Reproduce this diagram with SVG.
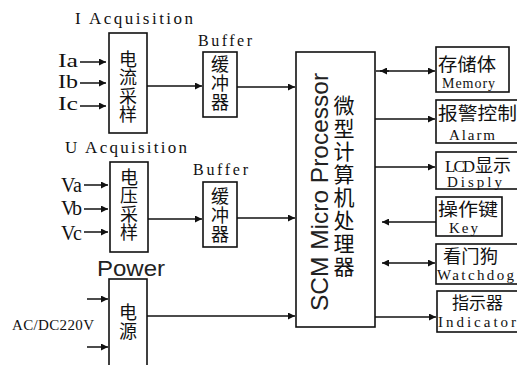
<svg xmlns="http://www.w3.org/2000/svg" width="517" height="365" viewBox="0 0 517 365">
<style>
.box{fill:#fff;stroke:#111;stroke-width:1.6}
.ln{fill:none;stroke:#111;stroke-width:1.5}
.mono{font-family:"Liberation Serif","DejaVu Serif",serif;fill:#111}
.cjk{font-family:"Noto Sans CJK SC","Noto Sans CJK JP",sans-serif;fill:#111}
.sans{font-family:"Liberation Sans",Arial,sans-serif;fill:#222}
.vt{font-family:"Noto Sans CJK SC","Noto Sans CJK JP",sans-serif;fill:#111;writing-mode:vertical-rl}
</style>
<defs>
<marker id="ah" viewBox="0 0 10 10" refX="10" refY="5" markerWidth="8" markerHeight="7" markerUnits="userSpaceOnUse" orient="auto-start-reverse">
<path d="M0,0 L10,5 L0,10 z" fill="#111"/>
</marker>
</defs>
<rect width="517" height="365" fill="#fff"/>

<g id="i-acq">
<text class="mono" x="75" y="24" font-size="17" textLength="118" lengthAdjust="spacing">I Acquisition</text>
<rect class="box" x="109" y="33" width="38" height="100"/>
<text class="vt" x="128" y="50" font-size="18" letter-spacing="0.5">电流采样</text>
<text class="mono" x="58" y="67" font-size="19.5" textLength="20" lengthAdjust="spacingAndGlyphs">Ia</text>
<text class="mono" x="58" y="88" font-size="19.5" textLength="20" lengthAdjust="spacingAndGlyphs">Ib</text>
<text class="mono" x="58" y="110" font-size="19.5" textLength="20" lengthAdjust="spacingAndGlyphs">Ic</text>
</g>

<g id="buffer1">
<text class="mono" x="198" y="46" font-size="16" textLength="54" lengthAdjust="spacing">Buffer</text>
<rect class="box" x="203" y="52" width="34" height="65"/>
<text class="vt" x="220" y="55" font-size="18" letter-spacing="1">缓冲器</text>
</g>

<g id="u-acq">
<text class="mono" x="65" y="153" font-size="17" textLength="122" lengthAdjust="spacing">U Acquisition</text>
<rect class="box" x="110" y="162" width="38" height="90"/>
<text class="vt" x="129" y="168" font-size="18" letter-spacing="0.5">电压采样</text>
<text class="mono" x="61" y="192" font-size="20" textLength="21" lengthAdjust="spacing">Va</text>
<text class="mono" x="61" y="215" font-size="20" textLength="21" lengthAdjust="spacing">Vb</text>
<text class="mono" x="61" y="240" font-size="20" textLength="21" lengthAdjust="spacing">Vc</text>
</g>

<g id="buffer2">
<text class="mono" x="193" y="175" font-size="16" textLength="55" lengthAdjust="spacing">Buffer</text>
<rect class="box" x="203" y="182" width="34" height="65"/>
<text class="vt" x="220" y="187" font-size="18" letter-spacing="1">缓冲器</text>
</g>

<g id="power">
<text class="sans" x="97" y="276" font-size="22" textLength="68" lengthAdjust="spacingAndGlyphs">Power</text>
<rect class="box" x="109" y="279" width="38" height="100"/>
<text class="vt" x="128" y="303" font-size="18" letter-spacing="1">电源</text>
<text class="mono" x="12" y="330" font-size="15" textLength="82" lengthAdjust="spacing">AC/DC220V</text>
</g>

<g id="processor">
<rect class="box" x="296" y="52" width="79" height="275"/>
<text class="sans" transform="translate(328,192) rotate(-90)" text-anchor="middle" font-size="24.5">SCM Micro Processor</text>
<text class="vt" x="344" y="95" font-size="21" letter-spacing="2">微型计算机处理器</text>
</g>

<g id="memory">
<rect class="box" x="436" y="47" width="73" height="45"/>
<text class="cjk" x="438" y="71" font-size="18" textLength="58" lengthAdjust="spacingAndGlyphs">存储体</text>
<text class="mono" x="442" y="88" font-size="14" textLength="53" lengthAdjust="spacing">Memory</text>
</g>

<g id="alarm">
<rect class="box" x="436" y="100" width="90" height="43"/>
<text class="cjk" x="438" y="120" font-size="18" textLength="79" lengthAdjust="spacingAndGlyphs">报警控制</text>
<text class="mono" x="449" y="140" font-size="15" textLength="46" lengthAdjust="spacing">Alarm</text>
</g>

<g id="lcd">
<rect class="box" x="436" y="152" width="90" height="37"/>
<text class="mono" x="445" y="172" font-size="17" textLength="30" lengthAdjust="spacing">LCD</text>
<text class="cjk" x="475" y="172" font-size="18">显示</text>
<text class="mono" x="447" y="187" font-size="15" textLength="55" lengthAdjust="spacing">Disply</text>
</g>

<g id="key">
<rect class="box" x="436" y="197" width="66" height="39"/>
<text class="cjk" x="438" y="216" font-size="18" textLength="60" lengthAdjust="spacingAndGlyphs">操作键</text>
<text class="mono" x="449" y="233" font-size="15" textLength="29" lengthAdjust="spacing">Key</text>
</g>

<g id="watchdog">
<rect class="box" x="436" y="244" width="90" height="40"/>
<text class="cjk" x="443" y="263" font-size="18" textLength="55" lengthAdjust="spacingAndGlyphs">看门狗</text>
<text class="mono" x="437" y="280" font-size="15" textLength="77" lengthAdjust="spacing">Watchdog</text>
</g>

<g id="indicator">
<rect class="box" x="437" y="291" width="90" height="41"/>
<text class="cjk" x="452" y="309" font-size="17" textLength="51" lengthAdjust="spacingAndGlyphs">指示器</text>
<text class="mono" x="438" y="327" font-size="15" textLength="78" lengthAdjust="spacing">Indicator</text>
</g>

<g id="connectors">
<line class="ln" x1="80" y1="62" x2="106" y2="62" marker-end="url(#ah)"/>
<line class="ln" x1="80" y1="83" x2="106" y2="83" marker-end="url(#ah)"/>
<line class="ln" x1="80" y1="106" x2="106" y2="106" marker-end="url(#ah)"/>
<line class="ln" x1="84" y1="185" x2="108" y2="185" marker-end="url(#ah)"/>
<line class="ln" x1="84" y1="209" x2="108" y2="209" marker-end="url(#ah)"/>
<line class="ln" x1="84" y1="232" x2="108" y2="232" marker-end="url(#ah)"/>
<line class="ln" x1="87" y1="299" x2="108" y2="299" marker-end="url(#ah)"/>
<line class="ln" x1="87" y1="347" x2="108" y2="347" marker-end="url(#ah)"/>
<line class="ln" x1="147" y1="86" x2="202" y2="86" marker-end="url(#ah)"/>
<line class="ln" x1="237" y1="87" x2="295" y2="87" marker-end="url(#ah)"/>
<line class="ln" x1="148" y1="219" x2="202" y2="219" marker-end="url(#ah)"/>
<line class="ln" x1="237" y1="218" x2="295" y2="218" marker-end="url(#ah)"/>
<line class="ln" x1="147" y1="316" x2="295" y2="316" marker-end="url(#ah)"/>
<line class="ln" x1="376" y1="71" x2="389" y2="71"/>
<line class="ln" x1="380" y1="71" x2="435" y2="71" marker-start="url(#ah)" marker-end="url(#ah)"/>
<line class="ln" x1="375" y1="119" x2="435" y2="119" marker-end="url(#ah)"/>
<line class="ln" x1="375" y1="167" x2="435" y2="167" marker-end="url(#ah)"/>
<line class="ln" x1="436" y1="222" x2="382" y2="222" marker-end="url(#ah)"/>
<line class="ln" x1="382" y1="263" x2="435" y2="263" marker-start="url(#ah)" marker-end="url(#ah)"/>
<line class="ln" x1="375" y1="317" x2="436" y2="317" marker-end="url(#ah)"/>
</g>
</svg>
